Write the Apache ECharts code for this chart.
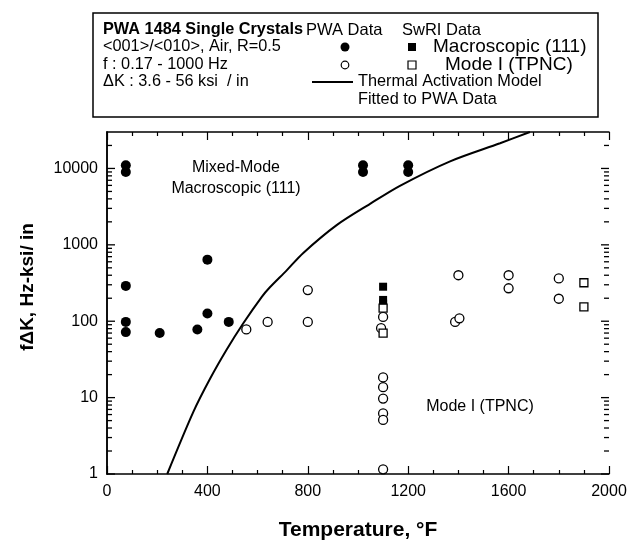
<!DOCTYPE html>
<html>
<head>
<meta charset="utf-8">
<title>PWA 1484 fΔK vs Temperature</title>
<script src="https://cdn.jsdelivr.net/npm/echarts@6/dist/echarts.min.js"></script>
<style>
  html, body { margin: 0; padding: 0; background: #fff; }
  #chart { width: 634px; height: 546px; }
</style>
</head>
<body>
<div id="chart"></div>
<script>
  // PWA data, macroscopic (111) - filled circles
  var pwaMacroT = [75, 75, 75, 75, 75, 210, 360, 400, 400, 485, 1020, 1020, 1200, 1200];
  var pwaMacroF = [11000, 9000, 290, 98, 72, 70, 78, 640, 126, 98, 11000, 9000, 11000, 9000];

  // PWA data, mode I (TPNC) - open circles
  var pwaModeT = [555, 640, 800, 800, 1100, 1092, 1100, 1100, 1100, 1100, 1100, 1100, 1387, 1404, 1400, 1600, 1600, 1800, 1800];
  var pwaModeF = [78, 98, 98, 256, 114, 81, 18.4, 13.7, 9.7, 6.2, 5.1, 1.15, 98, 109, 400, 400, 270, 363, 197];

  // SwRI data, macroscopic (111) - filled squares
  var swriMacroT = [1100, 1100, 1100];
  var swriMacroF = [283, 190, 170];

  // SwRI data, mode I (TPNC) - open squares
  var swriModeT = [1100, 1100, 1900, 1900];
  var swriModeF = [148, 70, 319, 154];

  // thermal activation model curve
  var modelT = [240, 344, 410, 477, 543, 616, 649, 715, 782, 915, 1048, 1167, 1367, 1566, 1685];
  var modelF = [1, 6.5, 17.5, 42.6, 94, 207, 278, 460, 783, 1810, 3440, 5930, 12400, 21400, 30000];

  // axes
  var xMin = 0, xMax = 2000, xStep = 400;
  var yMin = 1, yMax = 30000;
  var decades = [1, 10, 100, 1000, 10000];
  var minorMult = [2, 3, 4, 5, 6, 7, 8, 9];

  var font = 'Liberation Sans, Arial, Helvetica, sans-serif';

  function pairs(xs, ys) {
    return xs.map(function (x, i) { return [x, ys[i]]; });
  }

  // y tick positions: [x, value, length]
  var yTicks = [];
  decades.forEach(function (d) {
    yTicks.push([xMax, d, 8]);
    minorMult.forEach(function (m) {
      if (d * m < yMax) yTicks.push([xMax, d * m, 5]);
    });
  });

  var chart = echarts.init(document.getElementById('chart'));

  var tickStyle = { color: '#000', width: 1.2 };
  var lineStyle = { color: '#000', width: 1.5 };

  function txt(x, y, s, size, extra) {
    var st = { text: s, font: (extra && extra.bold ? 'bold ' : '') + size + 'px ' + font, fill: '#000', textVerticalAlign: 'middle' };
    if (extra && extra.align) st.textAlign = extra.align;
    return { type: 'text', x: x, y: y, style: st, z: 11 };
  }

  var option = {
    backgroundColor: '#fff',
    animation: false,
    grid: { left: 107, right: 25, top: 132, bottom: 66, containLabel: false },
    xAxis: [
      {
        type: 'value', position: 'bottom', min: xMin, max: xMax, interval: xStep,
        axisLine: { lineStyle: lineStyle },
        axisTick: { inside: true, length: 8, lineStyle: tickStyle },
        minorTick: { show: true, splitNumber: 4, length: 4, lineStyle: tickStyle },
        splitLine: { show: false },
        axisLabel: { color: '#000', fontSize: 16, fontFamily: font, margin: 10, formatter: function (v) { return String(v); } },
        name: 'Temperature, °F', nameLocation: 'middle', nameGap: 46,
        nameTextStyle: { color: '#000', fontSize: 21, fontWeight: 'bold', fontFamily: font }
      },
      {
        type: 'value', position: 'top', min: xMin, max: xMax, interval: xStep,
        axisLine: { lineStyle: lineStyle },
        axisTick: { inside: true, length: 8, lineStyle: tickStyle },
        minorTick: { show: true, splitNumber: 4, length: 4, lineStyle: tickStyle },
        splitLine: { show: false },
        axisLabel: { show: false }
      }
    ],
    yAxis: [
      {
        type: 'log', logBase: 10, position: 'left', min: yMin, max: yMax,
        axisLine: { lineStyle: lineStyle },
        axisTick: { show: false },
        splitLine: { show: false },
        axisLabel: {
          color: '#000', fontSize: 16, fontFamily: font, margin: 9,
          formatter: function (v) {
            var l = Math.log10(v);
            return Math.abs(l - Math.round(l)) < 1e-6 ? String(Math.round(v)) : '';
          }
        },
        name: 'fΔK, Hz-ksi/ in', nameLocation: 'middle', nameGap: 70,
        nameTextStyle: { color: '#000', fontSize: 19, fontWeight: 'bold', fontFamily: font, padding: [0, 0, 0, 32] }
      },
      {
        type: 'log', logBase: 10, position: 'right', min: yMin, max: yMax,
        axisLine: { lineStyle: lineStyle },
        axisTick: { show: false },
        splitLine: { show: false },
        axisLabel: { show: false }
      }
    ],
    series: [
      {
        name: 'Thermal Activation Model', type: 'line', data: pairs(modelT, modelF),
        smooth: 0.3, showSymbol: false, symbol: 'none',
        lineStyle: { color: '#000', width: 2 }, z: 2
      },
      {
        name: 'PWA Macroscopic (111)', type: 'scatter', data: pairs(pwaMacroT, pwaMacroF),
        symbol: 'circle', symbolSize: 10, itemStyle: { color: '#000', opacity: 1 }, z: 3
      },
      {
        name: 'PWA Mode I (TPNC)', type: 'scatter', data: pairs(pwaModeT, pwaModeF),
        symbol: 'circle', symbolSize: 9,
        itemStyle: { color: '#fff', borderColor: '#000', borderWidth: 1.3, opacity: 1 }, z: 3
      },
      {
        name: 'SwRI Macroscopic (111)', type: 'scatter', data: pairs(swriMacroT, swriMacroF),
        symbol: 'rect', symbolSize: 8, itemStyle: { color: '#000', opacity: 1 }, z: 4
      },
      {
        name: 'SwRI Mode I (TPNC)', type: 'scatter', data: pairs(swriModeT, swriModeF),
        symbol: 'rect', symbolSize: 8,
        itemStyle: { color: '#fff', borderColor: '#000', borderWidth: 1.3, opacity: 1 }, z: 4
      },
      {
        // log ticks (major + minor) on left and right frame, pointing inward
        name: 'y ticks', type: 'custom', data: yTicks, silent: true, clip: false, z: 1,
        encode: { x: 0, y: 1 },
        renderItem: function (params, api) {
          var v = api.value(1);
          var len = api.value(2);
          var y = api.coord([xMax, v])[1];
          var left = params.coordSys.x;
          var right = params.coordSys.x + params.coordSys.width;
          return {
            type: 'group',
            children: [
              { type: 'line', shape: { x1: left, y1: y, x2: left + len, y2: y }, style: { stroke: '#000', lineWidth: 1.3 } },
              { type: 'line', shape: { x1: right, y1: y, x2: right - len, y2: y }, style: { stroke: '#000', lineWidth: 1.3 } }
            ]
          };
        }
      }
    ],
    graphic: [
      { type: 'rect', shape: { x: 93, y: 13, width: 505, height: 104 }, style: { fill: '#fff', stroke: '#000', lineWidth: 1.5 }, z: 10 },
      txt(103, 30, 'PWA 1484 Single Crystals', 16.3, { bold: true }),
      txt(103, 47, '<001>/<010>, Air, R=0.5', 16.3),
      txt(103, 65, 'f : 0.17 - 1000 Hz', 16.3),
      txt(103, 82, 'ΔK : 3.6 - 56 ksi  / in', 16.3),
      txt(306, 30, 'PWA Data', 16.5),
      txt(402, 30, 'SwRI Data', 16.5),
      { type: 'circle', shape: { cx: 345, cy: 47, r: 4.5 }, style: { fill: '#000' }, z: 11 },
      { type: 'circle', shape: { cx: 345, cy: 65, r: 3.8 }, style: { fill: '#fff', stroke: '#000', lineWidth: 1.2 }, z: 11 },
      { type: 'rect', shape: { x: 408, y: 43, width: 8, height: 8 }, style: { fill: '#000' }, z: 11 },
      { type: 'rect', shape: { x: 408, y: 61, width: 8, height: 8 }, style: { fill: '#fff', stroke: '#000', lineWidth: 1.2 }, z: 11 },
      txt(433, 47, 'Macroscopic (111)', 19),
      txt(445, 65, 'Mode I (TPNC)', 19),
      { type: 'line', shape: { x1: 312, y1: 82, x2: 353, y2: 82 }, style: { stroke: '#000', lineWidth: 2 }, z: 11 },
      txt(358, 82, 'Thermal Activation Model', 16.3),
      txt(358, 100, 'Fitted to PWA Data', 16.3),
      txt(236, 168, 'Mixed-Mode', 16, { align: 'center' }),
      txt(236, 189, 'Macroscopic (111)', 16, { align: 'center' }),
      txt(480, 407, 'Mode I (TPNC)', 16, { align: 'center' })
    ]
  };

  chart.setOption(option);
</script>
</body>
</html>
